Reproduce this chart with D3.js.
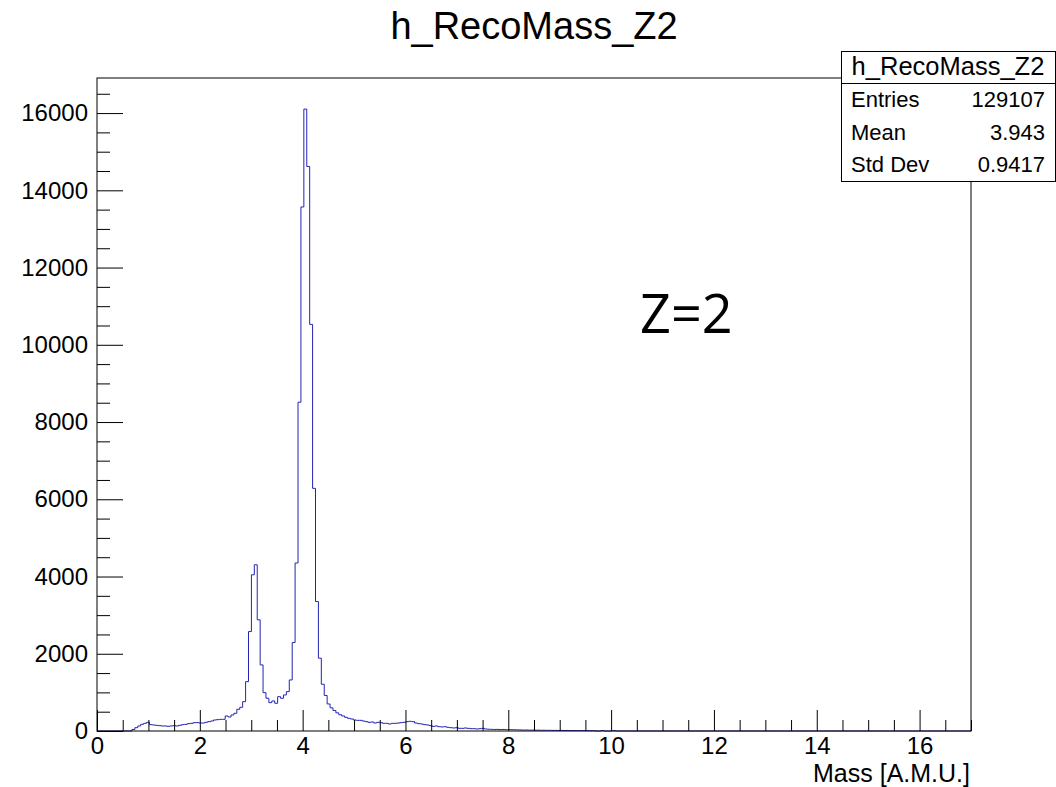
<!DOCTYPE html>
<html>
<head>
<meta charset="utf-8">
<script src="https://cdn.jsdelivr.net/npm/d3@7"></script>
<style>
  body { margin: 0; background: #fff; }
  svg { display: block; font-family: "Liberation Sans", Arial, sans-serif; }
</style>
</head>
<body>
<div id="chart"></div>
<script>
// histogram binning (300 bins over 0..17)
const nBins = 300;
const xMin = 0;
const xMax = 17;
const firstBin = 12;
// bin contents, starting at bin index firstBin
const counts = [
  40, 86, 130, 173, 199, 225, 164, 156, 147, 138,
  130, 130, 121, 130, 138, 130, 147, 164, 173, 190,
  199, 216, 216, 207, 207, 225, 242, 259, 285, 294,
  302, 302, 389, 363, 415, 458, 562, 614, 760, 1278,
  2575, 4045, 4304, 2878, 1711, 993, 848, 734, 778, 718,
  889, 848, 933, 1019, 1322, 2290, 4350, 8513, 13569, 16103,
  14617, 10528, 6283, 3353, 1885, 1211, 920, 700, 600, 530,
  470, 420, 389, 354, 328, 311, 285, 276, 276, 259,
  242, 225, 233, 207, 225, 215, 199, 199, 181, 199,
  199, 207, 216, 225, 242, 251, 242, 207, 190, 181,
  164, 156, 138, 121, 130, 112, 104, 112, 95, 86,
  78, 86, 69, 69, 78, 69, 60, 60, 52, 60,
  69, 52, 45, 43, 40, 42, 38, 40, 36, 38,
  34, 33, 30, 28, 24, 26, 22, 24, 20, 22,
  18, 20, 17, 18, 15, 16, 14, 15, 13, 14,
  12, 11, 12, 10, 11, 9, 10, 8, 8, 0,
  0, 12, 0, 0, 0, 10
];

const xMajorTicks = [0, 2, 4, 6, 8, 10, 12, 14, 16];
const yMajorTicks = [0, 2000, 4000, 6000, 8000, 10000, 12000, 14000, 16000];

const histTitle = "h_RecoMass_Z2";
const xTitle = "Mass [A.M.U.]";
const annotation = "Z=2";
const statLabels = ["Entries", "Mean", "Std Dev"];
const statValues = ["129107", "3.943", "0.9417"];

const width = 1056;
const height = 787;
const frame = { left: 97, right: 971, top: 78, bottom: 731 };

const svg = d3.select("#chart")
  .append("svg")
  .attr("width", width)
  .attr("height", height);

// full bin array
const binWidth = (xMax - xMin) / nBins;
const contents = d3.range(nBins).map((i) => {
  const k = i - firstBin;
  return k >= 0 && k < counts.length ? counts[k] : 0;
});
const points = contents.map((c, i) => [xMin + i * binWidth, c]);
points.push([xMax, 0]);

const xScale = d3.scaleLinear()
  .domain([xMin, xMax])
  .range([frame.left, frame.right]);

const yScale = d3.scaleLinear()
  .domain([0, d3.max(contents) * 1.05])
  .range([frame.bottom, frame.top]);

// histogram outline
const line = d3.line()
  .x((d) => xScale(d[0]))
  .y((d) => yScale(d[1]))
  .curve(d3.curveStepAfter);

svg.append("path")
  .attr("d", line(points))
  .attr("fill", "none")
  .attr("stroke", "#2424b4")
  .attr("stroke-width", 1);

// x axis: minor ticks every 0.5, major every 2
const xMinor = d3.range(0, 17.01, 0.5).filter((v) => v % 2 !== 0);
const xMinorAxis = svg.append("g")
  .attr("transform", `translate(0,${frame.bottom})`)
  .call(d3.axisBottom(xScale).tickValues(xMinor).tickSize(-11).tickFormat(""));

const xAxis = svg.append("g")
  .attr("transform", `translate(0,${frame.bottom})`)
  .call(d3.axisBottom(xScale).tickValues(xMajorTicks).tickSize(-21).tickPadding(5.5).tickFormat(d3.format("d")));

// y axis: minor every 500, major every 2000
const yMinor = d3.range(0, yScale.domain()[1], 500).filter((v) => v % 2000 !== 0);
const yMinorAxis = svg.append("g")
  .attr("transform", `translate(${frame.left},0)`)
  .call(d3.axisLeft(yScale).tickValues(yMinor).tickSize(-13).tickFormat(""));

const yAxis = svg.append("g")
  .attr("transform", `translate(${frame.left},0)`)
  .call(d3.axisLeft(yScale).tickValues(yMajorTicks).tickSize(-26).tickPadding(9).tickFormat(d3.format("d")));

[xMinorAxis, xAxis, yMinorAxis, yAxis].forEach((g) => {
  g.select(".domain").remove();
  g.selectAll(".tick line").attr("stroke", "#000");
  g.selectAll("text")
    .attr("fill", "#000")
    .style("font-size", "24px")
    .style("font-family", "Liberation Sans, Arial, sans-serif");
});

// frame
svg.append("rect")
  .attr("x", frame.left)
  .attr("y", frame.top)
  .attr("width", frame.right - frame.left)
  .attr("height", frame.bottom - frame.top)
  .attr("fill", "none")
  .attr("stroke", "#000")
  .attr("stroke-width", 1);

// titles
svg.append("text")
  .attr("x", 534)
  .attr("y", 39)
  .attr("text-anchor", "middle")
  .style("font-size", "38px")
  .text(histTitle);

svg.append("text")
  .attr("x", frame.right - 1)
  .attr("y", 781.5)
  .attr("text-anchor", "end")
  .style("font-size", "25px")
  .text(xTitle);

svg.append("text")
  .attr("x", 640)
  .attr("y", 333)
  .style("font-family", "Open Sans, sans-serif")
  .style("font-size", "54px")
  .text(annotation);

// stats box
const box = { x: 841, y: 51, w: 214, h: 130, header: 32 };
const stats = svg.append("g");
stats.append("rect")
  .attr("x", box.x + 0.5)
  .attr("y", box.y + 0.5)
  .attr("width", box.w)
  .attr("height", box.h)
  .attr("fill", "#fff")
  .attr("stroke", "#000");
stats.append("line")
  .attr("x1", box.x)
  .attr("x2", box.x + box.w)
  .attr("y1", box.y + box.header + 0.5)
  .attr("y2", box.y + box.header + 0.5)
  .attr("stroke", "#000");
stats.append("text")
  .attr("x", box.x + box.w / 2)
  .attr("y", 75)
  .attr("text-anchor", "middle")
  .style("font-size", "25.5px")
  .text(histTitle);

const rowY = [107, 140, 172];
statLabels.forEach((lab, i) => {
  stats.append("text")
    .attr("x", 851)
    .attr("y", rowY[i])
    .style("font-size", "22px")
    .text(lab);
  stats.append("text")
    .attr("x", 1045)
    .attr("y", rowY[i])
    .attr("text-anchor", "end")
    .style("font-size", "22px")
    .text(statValues[i]);
});
</script>
</body>
</html>
